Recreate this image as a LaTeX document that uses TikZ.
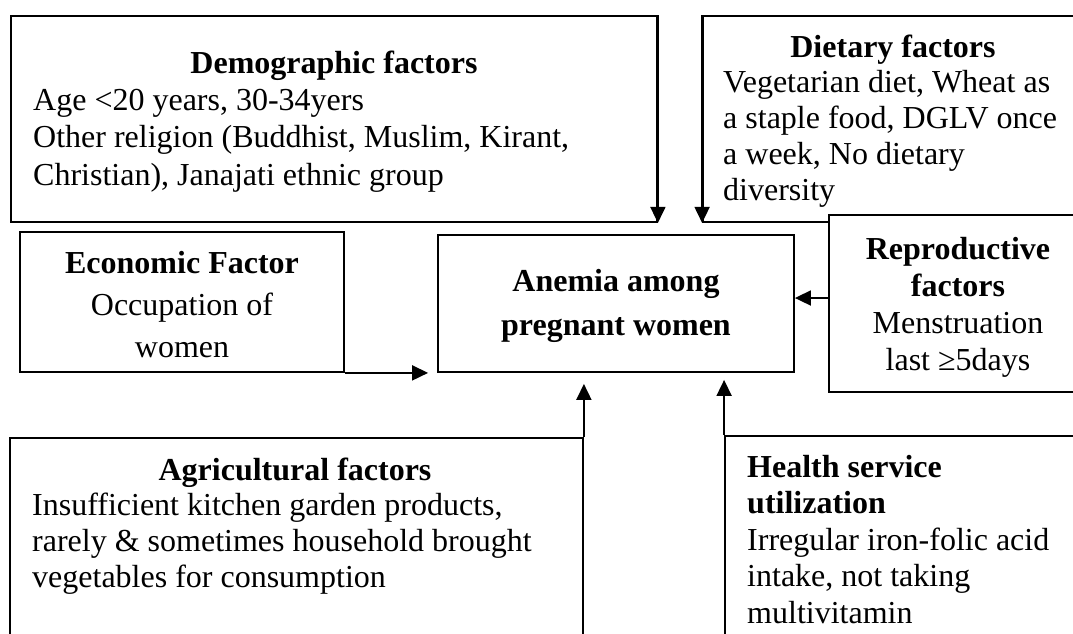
\documentclass[tikz,border=0pt]{standalone}
\usepackage{fontspec}
\setmainfont{Liberation Serif}
\usetikzlibrary{arrows.meta}
\newcommand{\myfs}[1]{\fontsize{32}{#1}\selectfont}
\begin{document}
\begin{tikzpicture}[x=1pt,y=-1pt,
  box/.style={draw=black, line width=1.8pt, fill=white, rectangle, inner sep=0pt},
  arr/.style={line width=1.8pt, -{Triangle[width=15pt,length=16pt]}},
  txt/.style={inner sep=0pt, anchor=base}]
\useasboundingbox (0,0) rectangle (1073,633);
\clip (0,0) rectangle (1073,633);
% boxes
\node[box, minimum width=646pt, minimum height=206pt] (demo) at (334,119) {};
\node[box, minimum width=382pt, minimum height=206pt] (diet) at (894,119) {};
\node[box, minimum width=324pt, minimum height=140pt] (econ) at (182,302) {};
\node[box, minimum width=356pt, minimum height=137pt] (central) at (616,303.5) {};
\node[box, minimum width=259pt, minimum height=177pt] (repro) at (958.5,303.5) {};
\node[box, minimum width=573pt, minimum height=222pt] (agri) at (296.5,549) {};
\node[box, minimum width=365pt, minimum height=224pt] (health) at (907.5,548) {};
% texts
\node[txt, font=\myfs{37}\bfseries] (demoT) at (334,73) {Demographic factors};
\node[txt, anchor=base west, font=\myfs{37.5}] (demoB) at (33,110)
  {\begin{tabular}[t]{@{}l@{}}Age <20 years, 30-34yers\\Other religion (Buddhist, Muslim, Kirant,\\Christian), Janajati ethnic group\end{tabular}};
\node[txt, font=\myfs{36}\bfseries] (dietT) at (893,57) {Dietary factors};
\node[txt, anchor=base west, font=\myfs{36}] (dietB) at (723,92)
  {\begin{tabular}[t]{@{}l@{}}Vegetarian diet, Wheat as\\a staple food, DGLV once\\a week, No dietary\\diversity\end{tabular}};
\node[txt, font=\myfs{42}] (econT) at (182,273)
  {\begin{tabular}[t]{@{}c@{}}\textbf{Economic Factor}\\Occupation of\\women\end{tabular}};
\node[txt, font=\myfs{44}\bfseries] (centralT) at (616,291)
  {\begin{tabular}[t]{@{}c@{}}Anemia among\\pregnant women\end{tabular}};
\node[txt, font=\myfs{37}] (reproT) at (958,259)
  {\begin{tabular}[t]{@{}c@{}}\textbf{Reproductive}\\\textbf{factors}\\Menstruation\\last ≥5days\end{tabular}};
\node[txt, font=\myfs{36}\bfseries] (agriT) at (295,480) {Agricultural factors};
\node[txt, anchor=base west, font=\myfs{36}] (agriB) at (32,515)
  {\begin{tabular}[t]{@{}l@{}}Insufficient kitchen garden products,\\rarely \& sometimes household brought\\vegetables for consumption\end{tabular}};
\node[txt, anchor=base west, font=\myfs{36.5}] (healthT) at (747,477)
  {\begin{tabular}[t]{@{}l@{}}\textbf{Health service}\\\textbf{utilization}\\Irregular iron-folic acid\\intake, not taking\\multivitamin\end{tabular}};
% connectors
\draw[arr] (demo.north east) -- (demo.south east);
\draw[arr] (diet.north west) -- (diet.south west);
\draw[arr, shorten >=9pt] (econ.south east) -- (central.south west);
\draw[arr] ([yshift=5.5pt]repro.west) -- ([yshift=5.5pt]central.east);
\draw[arr, shorten >=11pt] (agri.north east) -- (agri.north east |- central.south);
\draw[arr, shorten >=7pt] (health.north west) -- (health.north west |- central.south);
\end{tikzpicture}
\end{document}
